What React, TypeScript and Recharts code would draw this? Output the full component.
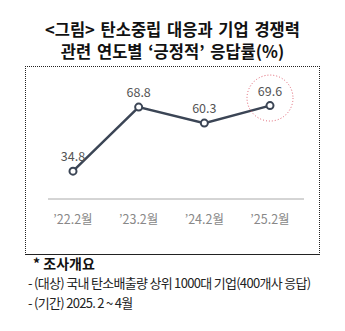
import React from 'react';
import { LineChart, Line, XAxis, YAxis, LabelList, ReferenceDot } from 'recharts';

const periods = ['’22.2월', '’23.2월', '’24.2월', '’25.2월'];
const positiveRate = [34.8, 68.8, 60.3, 69.6];
const titleLines = ['<그림> 탄소중립 대응과 기업 경쟁력', '관련 연도별 ‘긍정적’ 응답률(%)'];
const noteLines = ['- (대상) 국내 탄소배출량 상위 1000대 기업(400개사 응답)', '- (기간) 2025. 2 ~ 4월'];

const data = periods.map((p, i) => ({ period: p, value: positiveRate[i] }));
const last = data[data.length - 1];

if (typeof document !== 'undefined') document.body.style.margin = '0';

const font = '"Noto Sans CJK KR", "Noto Sans", sans-serif';

export default function App() {
    return (
        <div style={{ position: 'relative', width: 345, height: 331, background: '#fff', fontFamily: font, overflow: 'hidden' }}>
            {titleLines.map((t, i) => (
                <div key={i} style={{ position: 'absolute', left: 0, width: 345, top: 18 + i * 22, textAlign: 'center', fontSize: 16.5, fontWeight: 700, color: '#111', lineHeight: '22px', wordSpacing: 2 }}>
                    {t}
                </div>
            ))}
            {/* dotted frame around the chart */}
            <div style={{ position: 'absolute', left: 25, top: 66, width: 293, height: 187, borderTop: '1px dotted #222', borderLeft: '1px dotted #222', borderRight: '1px dotted #222', borderBottom: '1px solid #222' }} />
            <div style={{ position: 'absolute', left: 0, top: 0 }}>
                <LineChart width={345} height={331} data={data} margin={{ top: 86, right: 41, bottom: 102, left: 48 }}>
                    <XAxis
                        dataKey="period"
                        height={30}
                        tickLine={false}
                        axisLine={{ stroke: '#aaa', strokeWidth: 1 }}
                        padding={{ left: 25, right: 34 }}
                        tick={{ fill: '#888', fontSize: 12.5, fontFamily: font }}
                        tickMargin={10}
                        interval={0}
                    />
                    <YAxis hide domain={[20, 80]} />
                    <ReferenceDot x={last.period} y={last.value + 4} r={23} fill="none" stroke="#e06070" strokeWidth={1} strokeDasharray="1 2" isFront />
                    <Line
                        type="linear"
                        dataKey="value"
                        stroke="#3b4555"
                        strokeWidth={2.5}
                        dot={{ r: 3.5, fill: '#fff', stroke: '#3b4555', strokeWidth: 2 }}
                        isAnimationActive={false}
                    >
                        <LabelList dataKey="value" position="top" offset={10} fill="#555" fontSize={12.5} fontFamily={font} formatter={(v: number) => v.toFixed(1)} />
                    </Line>
                </LineChart>
            </div>
            <div style={{ position: 'absolute', left: 33, top: 254, fontSize: 14, fontWeight: 700, color: '#111', lineHeight: '18px' }}>* 조사개요</div>
            {noteLines.map((t, i) => (
                <div key={i} style={{ position: 'absolute', left: 28, top: 274 + i * 20, fontSize: 13, color: '#222', lineHeight: '18px', letterSpacing: -0.7 }}>
                    {t}
                </div>
            ))}
        </div>
    );
}
